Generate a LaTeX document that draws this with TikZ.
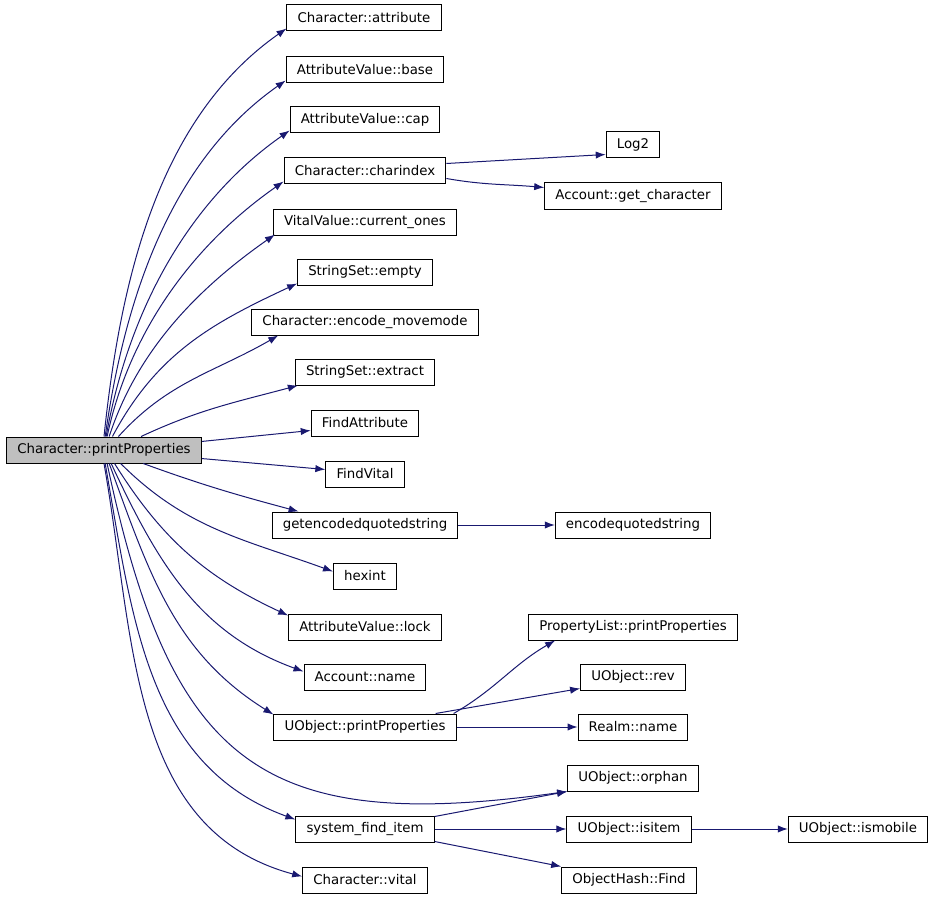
\documentclass[tikz,border=0pt]{standalone}
\usepackage{fontspec}
\setmainfont{DejaVu Sans}
\usetikzlibrary{arrows.meta, calc}
\definecolor{edge-blue}{HTML}{191970}
\tikzstyle{fn-box} = [rectangle, draw=black, line width=0.75pt, minimum height=19.5pt, inner xsep=8pt, inner ysep=0pt, font=\fontsize{10pt}{12pt}\selectfont]
\tikzstyle{main-box} = [fn-box, fill={rgb,255:red,191;green,191;blue,191}]
\tikzstyle{arrow} = [draw=edge-blue, line width=0.75pt, ->, >={Latex[length=7.5pt,width=5.5pt]}]

\begin{document}
\begin{tikzpicture}[x=0.75pt, y=0.75pt]
\useasboundingbox (0,0) rectangle (933,-899);

% caller
\node (main) [main-box] at (104,-450) {Character::printProperties};

% direct callees
\node (attr) [fn-box] at (364,-18) {Character::attribute};
\node (base) [fn-box] at (365,-70) {AttributeValue::base};
\node (cap) [fn-box] at (365,-120) {AttributeValue::cap};
\node (charidx) [fn-box] at (365,-171) {Character::charindex};
\node (curones) [fn-box] at (365,-222) {VitalValue::current\_ones};
\node (empty) [fn-box] at (365,-272) {StringSet::empty};
\node (encmove) [fn-box] at (365,-322) {Character::encode\_movemode};
\node (extract) [fn-box] at (365,-372) {StringSet::extract};
\node (findattr) [fn-box] at (365,-423) {FindAttribute};
\node (findvital) [fn-box] at (365,-474) {FindVital};
\node (getenc) [fn-box] at (365,-525) {getencodedquotedstring};
\node (hexint) [fn-box] at (365,-576) {hexint};
\node (lock) [fn-box] at (365,-627) {AttributeValue::lock};
\node (accname) [fn-box] at (365,-677) {Account::name};
\node (uobjpp) [fn-box] at (365,-727) {UObject::printProperties};
\node (sysfind) [fn-box] at (365,-829) {system\_find\_item};
\node (vital) [fn-box] at (365,-880) {Character::vital};

% second level
\node (log2) [fn-box] at (633,-145) {Log2};
\node (getchar) [fn-box] at (633,-196) {Account::get\_character};
\node (encquoted) [fn-box] at (633,-525) {encodequotedstring};
\node (plistpp) [fn-box] at (633,-627) {PropertyList::printProperties};
\node (rev) [fn-box] at (633,-677) {UObject::rev};
\node (realm) [fn-box] at (633,-727) {Realm::name};
\node (orphan) [fn-box] at (633,-778) {UObject::orphan};
\node (isitem) [fn-box] at (629,-829) {UObject::isitem};
\node (objfind) [fn-box] at (629,-880) {ObjectHash::Find};
\node (ismobile) [fn-box] at (858,-829) {UObject::ismobile};

% calls from the caller
\draw [arrow] (main.90) to[out=84, in=215, looseness=0.9] ($(attr.south west)+(0,3)$);
\draw [arrow] (main.85) to[out=82, in=215, looseness=0.9] ($(base.south west)+(0,3)$);
\draw [arrow] (main.81) to[out=80, in=215, looseness=0.9] ($(cap.south west)+(0,3)$);
\draw [arrow] (main.77) to[out=78, in=215, looseness=0.9] ($(charidx.south west)+(0,3)$);
\draw [arrow] (main.69) to[out=72, in=215, looseness=0.9] ($(curones.south west)+(2,1)$);
\draw [arrow] (main.58) to[out=62, in=205] ($(empty.south west)+(0,2)$);
\draw [arrow] (main.43) to[out=48, in=210] ($(encmove.south west)+(27,0)$);
\draw [arrow] (main.20) to[out=25, in=195] ($(extract.south west)+(3,0)$);
\draw [arrow] (main.5) -- ($(findattr.south west)+(0,6)$);
\draw [arrow] (main.-5) -- ($(findvital.north west)+(0,-9)$);
\draw [arrow] (main.-19) to[out=-20, in=165] ($(getenc.north west)+(27,0)$);
\draw [arrow] (main.-39) to[out=-45, in=160] ($(hexint.north west)+(0,-9)$);
\draw [arrow] (main.-52) to[out=-58, in=155] ($(lock.north west)+(0,-2)$);
\draw [arrow] (main.-62) to[out=-65, in=160] ($(accname.north west)+(0,-8)$);
\draw [arrow] (main.-69) to[out=-70, in=148] ($(uobjpp.north west)+(0,-1)$);
\draw [arrow] (main.-77) to[out=-78, in=188, looseness=1.4] (orphan.south west);
\draw [arrow] (main.-85) to[out=-80, in=160] ($(sysfind.north west)+(0,-4)$);
\draw [arrow] (main.-90) to[out=-80, in=165] ($(vital.north west)+(0,-10)$);

% further calls
\draw [arrow] ($(charidx.north east)+(0,-6)$) -- ($(log2.south west)+(0,4)$);
\draw [arrow] ($(charidx.south east)+(0,6)$) to[out=-10, in=175] ($(getchar.north west)+(0,-5)$);
\draw [arrow] (getenc) -- (encquoted);
\draw [arrow] ($(uobjpp.north east)+(-3,0)$) to[out=30, in=210] ($(plistpp.south west)+(27,0)$);
\draw [arrow] ($(uobjpp.north east)+(-21,0)$) -- ($(rev.south west)+(0,2)$);
\draw [arrow] (uobjpp) -- (realm);
\draw [arrow] ($(sysfind.north east)+(0,-1)$) -- (orphan.south west);
\draw [arrow] (sysfind) -- (isitem);
\draw [arrow] ($(sysfind.south east)+(0,1)$) -- (objfind.north west);
\draw [arrow] (isitem) -- (ismobile);

\end{tikzpicture}
\end{document}
